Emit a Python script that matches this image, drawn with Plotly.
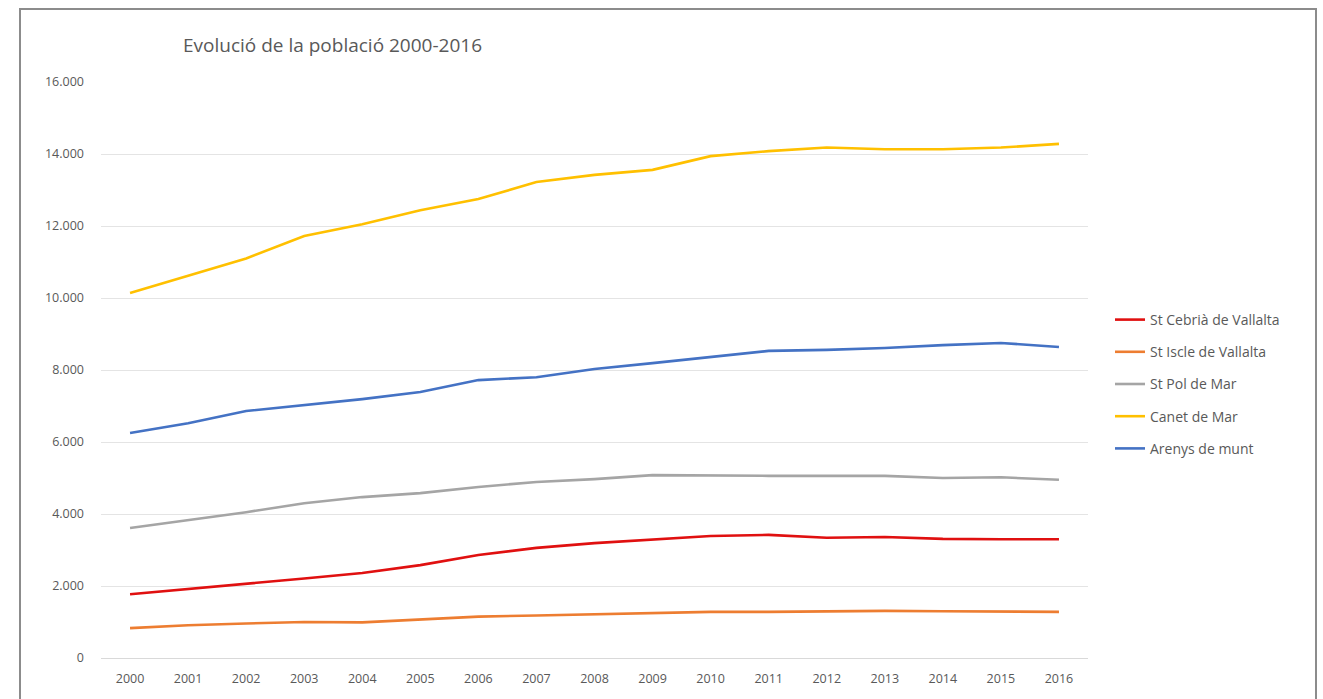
import plotly.graph_objects as go

years = [str(y) for y in range(2000, 2017)]

st_cebria = [1770, 1910, 2050, 2210, 2360, 2580, 2860, 3060, 3190, 3300, 3390, 3420, 3340, 3360, 3310, 3300, 3300]
st_iscle = [830, 910, 960, 1000, 990, 1080, 1150, 1180, 1220, 1250, 1280, 1280, 1300, 1310, 1300, 1300, 1280]
st_pol = [3610, 3830, 4050, 4300, 4470, 4580, 4750, 4890, 4970, 5080, 5060, 5060, 5060, 5060, 5000, 5020, 4950]
canet = [10140, 10620, 11100, 11720, 12050, 12440, 12750, 13220, 13420, 13560, 13940, 14080, 14180, 14130, 14130, 14180, 14280]
arenys = [6250, 6520, 6860, 7030, 7190, 7390, 7720, 7800, 8030, 8190, 8360, 8530, 8560, 8610, 8690, 8750, 8640]

names = ["St Cebrià de Vallalta", "St Iscle de Vallalta", "St Pol de Mar", "Canet de Mar", "Arenys de munt"]
series = [st_cebria, st_iscle, st_pol, canet, arenys]
colors = ["#E01010", "#ED7D31", "#A5A5A5", "#FFC000", "#4472C4"]

y_ticks = [0, 2000, 4000, 6000, 8000, 10000, 12000, 14000, 16000]
y_tick_labels = ["0", "2.000", "4.000", "6.000", "8.000", "10.000", "12.000", "14.000", "16.000"]

fig = go.Figure()
for i, (n, s, c) in enumerate(zip(names, series, colors)):
    fig.add_trace(go.Scatter(x=years, y=s, name=n, mode="lines",
                             line=dict(color=c, width=2.6),
                             legendgroup=f"g{i}"))

L, R, T, B = 101, 235, 82, 41
W, H = 1323, 699
pw, ph = W - L - R, H - T - B

def px_x(x):
    return (x - L) / pw

def px_y(y):
    return (H - B - y) / ph

font_color = "#595959"
fam = "Open Sans, Lato, sans-serif"

fig.update_layout(
    width=W, height=H,
    margin=dict(l=L, r=R, t=T, b=B, autoexpand=False),
    paper_bgcolor="white", plot_bgcolor="white",
    font=dict(family=fam, color=font_color, size=13),
    showlegend=True,
    legend=dict(x=px_x(1110), y=px_y(304), xanchor="left", yanchor="top",
                font=dict(size=14, color=font_color, family=fam), tracegroupgap=11,
                bgcolor="rgba(0,0,0,0)", itemwidth=30),
    xaxis=dict(type="category", range=[-0.5, 16.5], showgrid=False,
               showline=True, linecolor="#D9D9D9", linewidth=1,
               ticks="", ticklabelstandoff=9, tickfont=dict(size=12.5, color=font_color)),
    yaxis=dict(range=[0, 16000], tickvals=y_ticks, ticktext=y_tick_labels,
               showgrid=True, gridcolor="#E4E4E4", gridwidth=1,
               zeroline=False, showline=False, ticks="",
               ticklabelstandoff=16, tickfont=dict(size=12.5, color=font_color)),
    annotations=[dict(text="Evolució de la població 2000-2016", xref="paper", yref="paper",
                      x=px_x(181), y=px_y(45), xanchor="left", yanchor="middle",
                      showarrow=False, font=dict(size=19, color=font_color, family=fam))],
    shapes=[dict(type="rect", xref="paper", yref="paper",
                 x0=px_x(20), x1=px_x(1316), y0=px_y(710), y1=px_y(9),
                 line=dict(color="#8C8C8C", width=2), fillcolor="rgba(0,0,0,0)",
                 layer="below")],
)

fig.write_html("out.html")
